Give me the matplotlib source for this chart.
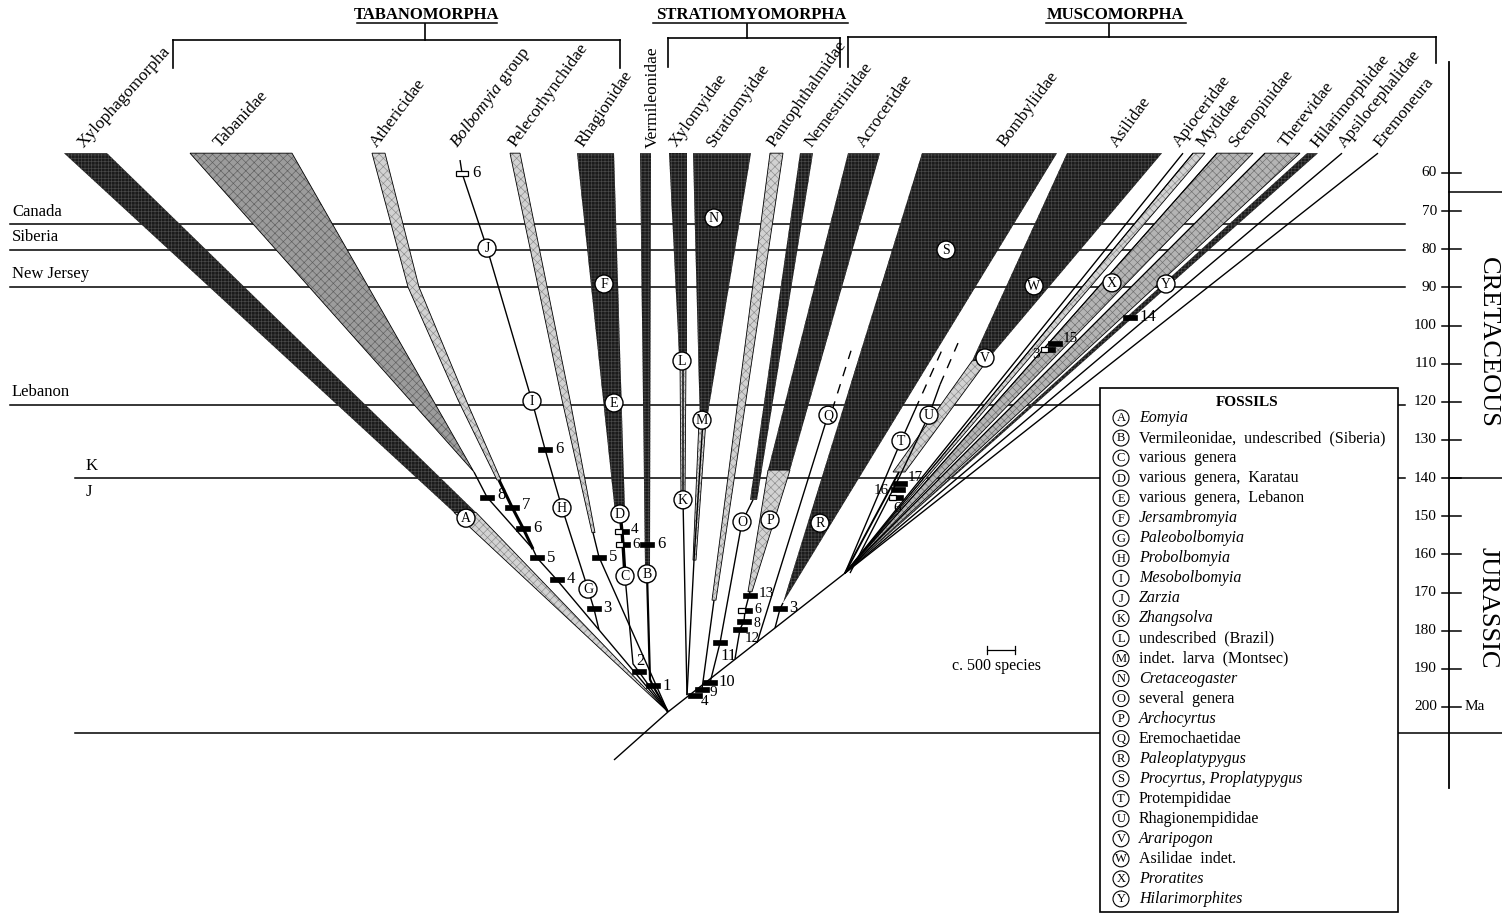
import matplotlib
matplotlib.use("Agg")
import matplotlib.pyplot as plt
from matplotlib.patches import Polygon, Ellipse, Rectangle

plt.rcParams["font.family"] = ["Liberation Serif", "DejaVu Serif"]
plt.rcParams["hatch.linewidth"] = 0.45
plt.rcParams["mathtext.fontset"] = "custom"
plt.rcParams["mathtext.it"] = "Liberation Serif:italic"
plt.rcParams["mathtext.rm"] = "Liberation Serif"

# ------------------------------------------------------------------ data
age_ticks = [60, 70, 80, 90, 100, 110, 120, 130, 140, 150, 160, 170, 180, 190, 200]
KT_BOUNDARY = 65.0
KJ_BOUNDARY = 140.0
BASE_AGE = 206.8
TOP_AGE = 54.8           # upper end of all lineage bands

localities = ["Canada", "Siberia", "New Jersey", "Lebanon"]
locality_ages = [73.4, 80.2, 89.9, 120.8]

groups = ["TABANOMORPHA", "STRATIOMYOMORPHA", "MUSCOMORPHA"]

taxa = ["Xylophagomorpha", "Tabanidae", "Athericidae", r"$\mathit{Bolbomyia}$ group",
        "Pelecorhynchidae", "Rhagionidae", "Vermileonidae", "Xylomyidae",
        "Stratiomyidae", "Pantophthalmidae", "Nemestrinidae", "Acroceridae",
        "Bombyliidae", "Asilidae", "Apioceridae", "Mydidae", "Scenopinidae",
        "Therevidae", "Hilarimorphidae", "Apsilocephalidae", "Eremoneura"]

fossil_letters = list("ABCDEFGHIJKLMNOPQRSTUVWXY")
fossil_names = ["Eomyia", "Vermileonidae,  undescribed  (Siberia)", "various  genera",
                "various  genera,  Karatau", "various  genera,  Lebanon", "Jersambromyia",
                "Paleobolbomyia", "Probolbomyia", "Mesobolbomyia", "Zarzia", "Zhangsolva",
                "undescribed  (Brazil)", "indet.  larva  (Montsec)", "Cretaceogaster",
                "several  genera", "Archocyrtus", "Eremochaetidae", "Paleoplatypygus",
                "Procyrtus, Proplatypygus", "Protempididae", "Rhagionempididae",
                "Araripogon", "Asilidae  indet.", "Proratites", "Hilarimorphites"]
fossil_italic = [1, 0, 0, 0, 0, 1, 1, 1, 1, 1, 1, 0, 0, 1, 0, 1, 0, 1, 1, 0, 0, 1, 0, 1, 1]
fossil_ages = [150.5, 165.1, 165.7, 149.4, 120.3, 89.1, 169.1, 147.8, 119.8, 79.7,
               145.7, 109.3, 124.8, 71.8, 151.5, 151.0, 123.5, 151.8, 80.2, 130.3,
               123.5, 108.5, 89.6, 88.8, 89.1]

marker_labels = ["6", "6", "8", "7", "6", "5", "4", "3", "5", "4", "6", "6", "2", "1",
                 "4", "9", "10", "11", "13", "6", "8", "12", "3", "17", "16", "6",
                 "15", "3", "14"]
marker_ages = [60.0, 132.4, 145.0, 147.6, 153.1, 160.9, 166.7, 174.3, 160.7, 154.1,
               157.3, 157.3, 190.8, 194.5, 196.9, 195.3, 193.7, 183.2, 170.9, 174.8,
               177.5, 179.6, 174.3, 141.5, 143.1, 145.0, 104.6, 106.4, 97.8]
marker_kind = ["o", "f", "f", "f", "f", "f", "f", "f", "f", "h", "h", "f", "f", "f",
               "f", "f", "f", "f", "f", "h", "f", "f", "f", "f", "f", "h", "f", "h", "f"]

# ------------------------------------------------------------------ layout
W, H = 1502, 914
PX_PER_MA = 3.814


def age_px(y):
    return 60 + (y - 173) / PX_PER_MA


taxon_label_x = [84, 220, 377, 457, 515, 583, 657, 676, 714, 774, 811, 864,
                 1004, 1117, 1180, 1203, 1236, 1286, 1317, 1345, 1380]
taxon_label_rot = [48, 47, 53, 53, 54, 56, 90, 54, 55, 55, 53, 55,
                   53, 54, 53, 53, 52, 52, 51, 51, 51]
fossil_x = [466, 647, 625, 620, 614, 604, 588, 562, 532, 487, 683, 682, 702, 714,
            742, 770, 828, 820, 946, 901, 929, 985, 1034, 1112, 1166]
marker_x = [462, 545, 487, 512, 523, 537, 557, 594, 599, 622, 623, 647, 639, 653,
            695, 702, 710, 720, 750, 745, 744, 740, 780, 900, 898, 896, 1055, 1048, 1130]
# (dx px, dy px, alignment, font size)
marker_lab = [(10, 0, "left", 12), (10, 0, "left", 12), (10, -2, "left", 12),
              (10, -2, "left", 12), (10, 0, "left", 12), (10, 0, "left", 12),
              (10, -1, "left", 12), (9, -1, "left", 12), (10, 0, "left", 12),
              (9, -2, "left", 11), (9, 0, "left", 11), (10, 0, "left", 12),
              (1, -11, "center", 12), (9, 0, "left", 12), (10, 6, "center", 11),
              (11, 3, "center", 11), (8, -1, "left", 12), (9, 13, "center", 12),
              (9, -2, "left", 11), (9, -1, "left", 10), (9, 2, "left", 10),
              (12, 9, "center", 11), (9, -1, "left", 12), (8, -6, "left", 11),
              (-9, 1, "right", 11), (1, 11, "center", 11), (8, -5, "left", 11),
              (-8, 5, "right", 11), (9, 0, "left", 12)]

NODE = (845, 164.9)

DARK = ("#1b1b1b", "#4a4a4a", "+++++")
MED = ("#9c9c9c", "#5e5e5e", "xxxx")
MEDL = ("#b4b4b4", "#6e6e6e", "xxxx")
LIGHT = ("#d2d2d2", "#8a8a8a", "xxxx")

bands = [
    (DARK, [64, 107, 476, 454], [TOP_AGE, TOP_AGE, 149.0, 149.0]),               # Xylophagomorpha
    (LIGHT, [454, 476, 668], [149.0, 149.0, 201.3]),
    (MED, [190, 292, 474], [TOP_AGE, TOP_AGE, 138.4]),                           # Tabanidae
    (LIGHT, [372, 385, 419, 466, 501, 497, 458, 408],
     [TOP_AGE, TOP_AGE, 89.9, 119.5, 140.5, 140.5, 119.5, 89.9]),               # Athericidae
    (LIGHT, [510, 520, 570, 595, 592, 562],
     [TOP_AGE, TOP_AGE, 119.5, 154.3, 154.3, 119.5]),                           # Pelecorhynchidae
    (DARK, [577, 614, 625, 615], [TOP_AGE, TOP_AGE, 149.0, 149.0]),              # Rhagionidae
    (DARK, [640, 651, 650, 645], [TOP_AGE, TOP_AGE, 162.8, 162.8]),              # Vermileonidae
    (DARK, [669, 687, 687, 679], [TOP_AGE, TOP_AGE, 107.7, 107.7]),              # Xylomyidae
    (LIGHT, [680, 686, 685, 681], [109.0, 109.0, 145.7, 145.7]),
    (DARK, [693, 751, 706, 700], [TOP_AGE, TOP_AGE, 126.1, 126.1]),              # Stratiomyidae
    (LIGHT, [699, 706, 696, 693], [124.8, 124.8, 161.5, 161.5]),
    (LIGHT, [770, 783, 716, 712], [TOP_AGE, TOP_AGE, 172.0, 172.0]),             # Pantophthalmidae
    (DARK, [800, 813, 757, 750], [TOP_AGE, TOP_AGE, 145.7, 145.7]),              # Nemestrinidae
    (DARK, [848, 880, 790, 768], [TOP_AGE, TOP_AGE, 137.9, 137.9]),              # Acroceridae
    (LIGHT, [768, 790, 752, 748], [137.9, 137.9, 169.8, 169.8]),
    (DARK, [922, 1057, 783], [TOP_AGE, TOP_AGE, 172.7]),                         # Bombyliidae
    (DARK, [1067, 1162, 989, 972], [TOP_AGE, TOP_AGE, 108.5, 109.3]),            # Asilidae
    (LIGHT, [972, 989, 905, 893], [109.3, 108.5, 138.4, 138.4]),
    (LIGHT, [1193, 1205, NODE[0]], [TOP_AGE, TOP_AGE, NODE[1]]),                 # Mydidae
    (MEDL, [1217, 1253, NODE[0]], [TOP_AGE, TOP_AGE, NODE[1]]),                  # Scenopinidae
    (MEDL, [1265, 1300, NODE[0]], [TOP_AGE, TOP_AGE, NODE[1]]),                  # Therevidae
    (DARK, [1307, 1318, NODE[0]], [TOP_AGE, TOP_AGE, NODE[1]]),                  # Hilarimorphidae
]

stems = [
    ([614, 668, 845], [213.9, 201.3, 164.9], 1.0),
    ([474, 487, 533, 537, 557, 599, 668], [138.4, 145.0, 158.6, 160.9, 166.7, 179.8, 201.3], 1.0),
    ([499, 512, 523, 533], [140.5, 147.6, 153.1, 158.6], 2.2),
    ([460, 462, 487, 532, 545, 562, 588, 594, 599],
     [56.6, 60.0, 79.7, 119.8, 132.4, 147.8, 169.1, 174.3, 179.8], 1.0),
    ([593, 599, 668], [154.3, 160.7, 201.3], 1.0),
    ([620, 622, 623, 625], [149.0, 154.1, 157.3, 165.7], 2.4),
    ([625, 633, 639, 668], [165.7, 188.7, 190.8, 201.3], 1.0),
    ([647, 647, 650, 653, 668], [162.8, 165.1, 192.8, 194.5, 201.3], 1.6),
    ([683, 683, 687], [107.7, 145.7, 196.9], 1.0),
    ([703, 694, 687], [124.8, 161.5, 196.9], 1.0),
    ([714, 702], [172.0, 195.3], 1.0),
    ([753, 742, 720, 710], [145.7, 151.5, 183.2, 193.7], 1.0),
    ([750, 745, 744, 740, 735], [169.8, 174.8, 177.5, 179.6, 187.4], 1.0),
    ([757, 828], [183.2, 123.5], 1.0),
    ([775, 780, 783], [179.3, 174.3, 172.7], 1.0),
    ([899, 845], [138.4, 164.9], 1.4),
    ([845, 901, 915], [164.9, 130.3, 122.1], 1.0),
    ([850, 896, 929, 940], [164.9, 141.5, 123.5, 115.5], 1.0),
    ([845, 1183], [164.9, TOP_AGE], 1.0),
    ([845, 1193], [164.9, TOP_AGE], 0.8),
    ([845, 1217], [164.9, TOP_AGE], 0.8),
    ([845, 1265], [164.9, TOP_AGE], 0.8),
    ([845, 1342], [164.9, TOP_AGE], 1.0),
    ([845, 1378], [164.9, TOP_AGE], 1.0),
]
dashed = [
    ([832, 851], [122.3, 106.6]),
    ([915, 942], [122.1, 106.4]),
    ([940, 958], [115.5, 104.6]),
]

# ------------------------------------------------------------------ figure
fig = plt.figure(figsize=(W / 100, H / 100), dpi=100)
ax = fig.add_axes([0, 0, 1, 1])
ax.set_xlim(0, W)
ax.set_ylim(age_px(H), age_px(0))
ax.axis("off")

for name, a in zip(localities, locality_ages):
    ax.plot([10, 1405], [a, a], color="black", lw=1.1, zorder=1)
    ax.text(12, a - 1.2, name, fontsize=12, ha="left", va="bottom", zorder=8)
ax.plot([75, 1405], [KJ_BOUNDARY] * 2, color="black", lw=1.1, zorder=1)
ax.text(86, KJ_BOUNDARY - 1.0, "K", fontsize=12, ha="left", va="bottom")
ax.text(86, KJ_BOUNDARY + 1.5, "J", fontsize=12, ha="left", va="top")
ax.plot([75, 1502], [BASE_AGE] * 2, color="black", lw=1.1, zorder=1)

for (fc, hc, hatch), xs, ys in bands:
    ax.add_patch(Polygon(list(zip(xs, ys)), closed=True, facecolor=fc, edgecolor=hc,
                         hatch=hatch, lw=0, zorder=2))
    if fc != DARK[0]:
        ax.add_patch(Polygon(list(zip(xs, ys)), closed=True, fill=False,
                             edgecolor="black", lw=0.6, zorder=2.1))

for xs, ys, lw in stems:
    ax.plot(xs, ys, color="black", lw=lw, zorder=3, solid_capstyle="butt")
for xs, ys in dashed:
    ax.plot(xs, ys, color="black", lw=1.0, ls=(0, (7, 6)), zorder=3)

mh = 5 / PX_PER_MA
for lab, x, a, k, (dx, dy, ha, fs) in zip(marker_labels, marker_x, marker_ages, marker_kind, marker_lab):
    if k == "f":
        ax.add_patch(Rectangle((x - 7, a - mh / 2), 14, mh, facecolor="black",
                               edgecolor="black", lw=0.5, zorder=4))
    elif k == "o":
        ax.add_patch(Rectangle((x - 6, a - mh / 2), 12, mh, facecolor="white",
                               edgecolor="black", lw=0.9, zorder=4))
    else:
        ax.add_patch(Rectangle((x - 7, a - mh / 2), 7, mh, facecolor="white",
                               edgecolor="black", lw=0.9, zorder=4))
        ax.add_patch(Rectangle((x, a - mh / 2), 7, mh, facecolor="black",
                               edgecolor="black", lw=0.5, zorder=4))
    ax.text(x + dx, a + dy / PX_PER_MA, lab, fontsize=fs, ha=ha, va="center", zorder=4)

cr = 18
for let, x, a in zip(fossil_letters, fossil_x, fossil_ages):
    ax.add_patch(Ellipse((x, a), cr, cr / PX_PER_MA, facecolor="white",
                         edgecolor="black", lw=1.0, zorder=5))
    ax.text(x, a + 0.15, let, fontsize=10, ha="center", va="center", zorder=6)

for name, x, rot in zip(taxa, taxon_label_x, taxon_label_rot):
    ax.text(x, age_px(148), name, fontsize=12.5, rotation=rot, rotation_mode="anchor",
            ha="left", va="baseline")

group_cx = [427, 751, 1116]
group_ul = [(357, 497), (653, 848), (1046, 1186)]
for g, cx, (u0, u1) in zip(groups, group_cx, group_ul):
    ax.text(cx, age_px(15), g, fontsize=12, weight="bold", ha="center", va="center")
    ax.plot([u0, u1], [age_px(23.5)] * 2, color="black", lw=1.1)
brackets = [((173, 620), 425, 40, (68, 68)), ((668, 840), 747, 38, (67, 67)),
            ((848, 1436), 1109, 37, (67, 63))]
for (x0, x1), xs, yb, (d0, d1) in brackets:
    ax.plot([x0, x1], [age_px(yb)] * 2, color="black", lw=1.2)
    ax.plot([xs, xs], [age_px(24), age_px(yb)], color="black", lw=1.2)
    ax.plot([x0, x0], [age_px(yb), age_px(d0)], color="black", lw=1.2)
    ax.plot([x1, x1], [age_px(yb), age_px(d1)], color="black", lw=1.2)

AX_X = 1449
ax.plot([AX_X, AX_X], [age_px(62), age_px(788)], color="black", lw=1.3)
for t in age_ticks:
    ax.plot([AX_X - 7, AX_X + 12], [t, t], color="black", lw=1.1)
    ax.text(AX_X - 12, t, str(t), fontsize=11, ha="right", va="center")
ax.text(AX_X + 16, 200, "Ma", fontsize=11, ha="left", va="center")
ax.plot([AX_X, 1502], [KT_BOUNDARY] * 2, color="black", lw=1.1)
ax.plot([AX_X, 1502], [KJ_BOUNDARY] * 2, color="black", lw=1.1)
ax.text(1488, 104.5, "CRETACEOUS", fontsize=19, rotation=-90, ha="center", va="center")
ax.text(1488, 174.0, "JURASSIC", fontsize=19, rotation=-90, ha="center", va="center")

sb_y = age_px(650)
ax.plot([987, 1015], [sb_y, sb_y], color="black", lw=0.9)
for xx in (987, 1015):
    ax.plot([xx, xx], [sb_y - 1.0, sb_y + 1.0], color="black", lw=0.9)
ax.text(996, age_px(666), "c. 500 species", fontsize=11.5, ha="center", va="center")

ax.add_patch(Rectangle((1100, age_px(388)), 298, age_px(912) - age_px(388), facecolor="white",
                       edgecolor="black", lw=1.2, zorder=6))
ax.text(1247, age_px(403), "FOSSILS", fontsize=11, weight="bold", ha="center",
        va="center", zorder=7)
for i, (let, name, it) in enumerate(zip(fossil_letters, fossil_names, fossil_italic)):
    yy = age_px(418 + i * 20.04)
    ax.add_patch(Ellipse((1121, yy), 16, 16 / PX_PER_MA, facecolor="white",
                         edgecolor="black", lw=0.8, zorder=7))
    ax.text(1121, yy + 0.1, let, fontsize=9, ha="center", va="center", zorder=8)
    ax.text(1139, yy, name, fontsize=11.5, style="italic" if it else "normal",
            ha="left", va="center", zorder=8)

fig.savefig("out.png", dpi=100)
